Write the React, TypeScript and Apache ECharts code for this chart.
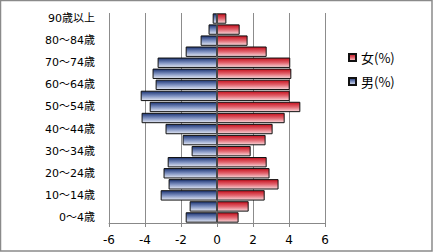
import React, { useEffect, useRef } from "react";
import * as echarts from "echarts";

const categories = [
  "0〜4歳", "5〜9歳", "10〜14歳", "15〜19歳", "20〜24歳", "25〜29歳", "30〜34歳",
  "35〜39歳", "40〜44歳", "45〜49歳", "50〜54歳", "55〜59歳", "60〜64歳", "65〜69歳",
  "70〜74歳", "75〜79歳", "80〜84歳", "85〜89歳", "90歳以上",
];
const maleValues = [
  -1.74, -1.52, -3.13, -2.69, -2.97, -2.74, -1.41, -1.91, -2.86, -4.19,
  -3.74, -4.24, -3.41, -3.58, -3.3, -1.74, -0.91, -0.47, -0.24,
];
const femaleValues = [
  1.2, 1.76, 2.65, 3.42, 2.92, 2.76, 1.87, 2.7, 3.09, 3.76,
  4.63, 4.04, 4.04, 4.13, 4.07, 2.76, 1.7, 1.26, 0.52,
];
const femaleName = "女(%)";
const maleName = "男(%)";

export default function App() {
  const ref = useRef<HTMLDivElement>(null);
  useEffect(() => {
    if (!ref.current) return;
    const chart = echarts.init(ref.current, null, { renderer: "svg" });
    const maleGrad = new echarts.graphic.LinearGradient(0, 0, 0, 1, [
      { offset: 0, color: "#1b3372" },
      { offset: 0.5, color: "#7d90c0" },
      { offset: 1, color: "#e6eaf5" },
    ]);
    const femaleGrad = new echarts.graphic.LinearGradient(0, 0, 0, 1, [
      { offset: 0, color: "#c40f1c" },
      { offset: 0.5, color: "#e2646e" },
      { offset: 1, color: "#f8dadd" },
    ]);
    chart.setOption({
      animation: false,
      backgroundColor: "#ffffff",
      graphic: [
        {
          type: "rect",
          shape: { x: 0.5, y: 0.5, width: 431.5, height: 250.5 },
          style: { fill: "none", stroke: "#8a8a8a", lineWidth: 1.5 },
          silent: true,
        },
      ],
      grid: { left: 109, right: 108, top: 13, bottom: 29 },
      legend: {
        orient: "vertical",
        left: 343,
        top: 46,
        icon: "rect",
        itemWidth: 7,
        itemHeight: 7,
        itemGap: 11,
        data: [femaleName, maleName],
        textStyle: {
          fontFamily: "'Noto Sans CJK JP', sans-serif",
          fontSize: 13,
          color: "#000",
        },
      },
      xAxis: {
        type: "value",
        min: -6,
        max: 6,
        interval: 2,
        axisLine: { show: true, lineStyle: { color: "#888", width: 1 } },
        axisTick: { show: true, length: 4, lineStyle: { color: "#888" } },
        axisLabel: {
          margin: 11,
          fontFamily: "'DejaVu Sans', sans-serif",
          fontSize: 12,
          color: "#000",
        },
        splitLine: { show: true, lineStyle: { color: "#8c8c8c", width: 1 } },
      },
      yAxis: {
        type: "category",
        data: categories,
        axisLine: { show: false, onZero: false },
        axisTick: { show: false },
        axisLabel: {
          interval: 1,
          margin: 14,
          fontFamily: "'DejaVu Sans', 'Noto Sans CJK JP', sans-serif",
          fontSize: 11,
          color: "#000",
        },
        splitLine: { show: false },
      },
      series: [
        {
          name: maleName,
          type: "bar",
          data: maleValues,
          barGap: "-100%",
          barCategoryGap: "6%",
          itemStyle: { color: maleGrad, borderColor: "#111", borderWidth: 1 },
          markLine: {
            silent: true,
            symbol: "none",
            label: { show: false },
            lineStyle: { color: "#5a5a5a", width: 1.5, type: "solid" },
            data: [{ xAxis: 0 }],
          },
        },
        {
          name: femaleName,
          type: "bar",
          data: femaleValues,
          barGap: "-100%",
          barCategoryGap: "6%",
          itemStyle: { color: femaleGrad, borderColor: "#111", borderWidth: 1 },
        },
      ],
    });
    return () => chart.dispose();
  }, []);
  return (
    <div
      ref={ref}
      style={{ position: "absolute", left: 0, top: 0, width: 433, height: 252 }}
    />
  );
}
